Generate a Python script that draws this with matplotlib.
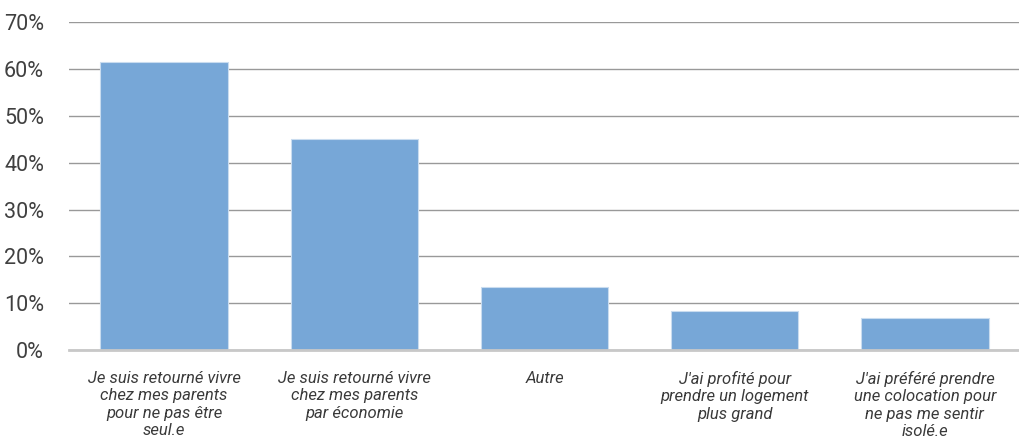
import matplotlib.pyplot as plt
from matplotlib.ticker import FuncFormatter

categories = ['Je suis retourné vivre\nchez mes parents\npour ne pas être\nseul.e',
              'Je suis retourné vivre\nchez mes parents\npar économie',
              'Autre',
              "J'ai profité pour\nprendre un logement\nplus grand",
              "J'ai préféré prendre\nune colocation pour\nne pas me sentir\nisolé.e"]
values = [61.4, 45.1, 13.5, 8.3, 6.8]
yticks = [0, 10, 20, 30, 40, 50, 60, 70]

plt.rcParams['font.family'] = ['Roboto', 'DejaVu Sans']

fig = plt.figure(figsize=(10.2, 4.42), dpi=100)
ax = fig.add_axes([0.0676, 0.208, 0.9324, 0.742])

x = range(len(values))
ax.bar(x, values, width=0.67, color='#77A7D7', edgecolor='#C9DCEF', linewidth=0.8, zorder=3)

ax.set_ylim(0, 70)
ax.set_xlim(-0.5, len(values) - 0.5)
ax.set_yticks(yticks)
ax.yaxis.set_major_formatter(FuncFormatter(lambda v, p: '%d%%' % v))
ax.grid(axis='y', color='#999999', linewidth=1.0, zorder=0)
ax.set_xticks(list(x))
ax.set_xticklabels(categories, fontstyle='italic', fontsize=12,
                   color='#3a3a3a', linespacing=1.2)
ax.tick_params(axis='x', length=0, pad=15)
ax.tick_params(axis='y', length=0, pad=18, labelsize=15.5, labelcolor='#404040')

for s in ['top', 'right', 'left']:
    ax.spines[s].set_visible(False)
ax.spines['bottom'].set_color('#C8C8C8')
ax.spines['bottom'].set_linewidth(2)
ax.spines['bottom'].set_zorder(4)

fig.savefig('out.png', dpi=100)
